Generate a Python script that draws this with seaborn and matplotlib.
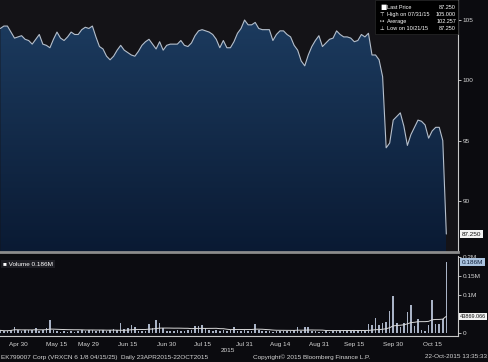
import numpy as np
import pandas as pd
import matplotlib
matplotlib.use('Agg')
import matplotlib.pyplot as plt
import matplotlib.transforms as mtransforms
from matplotlib import font_manager
from matplotlib.colors import LinearSegmentedColormap
from matplotlib.patches import Rectangle
import seaborn as sns

# Daily last price, 23 Apr 2015 - 21 Oct 2015 (trading days)
price = [
    104.3, 104.5, 104.5, 104.0, 103.5, 103.6, 103.7, 103.4, 103.3, 103.0,
    103.4, 103.8, 103.0, 102.9, 102.7, 103.4, 104.0, 103.5, 103.3, 103.6,
    104.0, 103.8, 103.8, 104.2, 104.4, 104.3, 104.5, 103.6, 102.8, 102.6,
    102.0, 101.7, 102.0, 102.5, 102.9, 102.5, 102.3, 102.1, 102.0, 102.4,
    102.9, 103.2, 103.4, 103.0, 102.6, 103.2, 102.5, 102.9, 103.0, 103.0,
    103.0, 103.3, 102.9, 102.8, 103.1, 103.7, 104.1, 104.2, 104.1, 104.0,
    103.8, 103.4, 102.7, 103.3, 102.7, 102.7, 103.2, 103.9, 104.3, 105.0,
    104.6, 104.6, 104.8, 104.3, 104.2, 104.2, 104.2, 103.3, 103.8, 104.1,
    104.1, 103.8, 103.6, 102.9, 102.5, 101.6, 101.2, 102.1, 102.8, 103.3,
    103.7, 102.8, 103.1, 103.4, 103.5, 104.1, 103.8, 103.6, 103.6, 103.5,
    103.2, 103.3, 103.8, 103.6, 103.9, 102.1, 102.1, 101.7, 100.3, 94.4,
    94.8, 96.7, 97.0, 97.3, 96.2, 94.6, 95.5, 96.1, 96.7, 96.6,
    96.3, 95.2, 95.8, 96.1, 96.1, 95.0, 87.25,
]

# Daily volume, thousands
volume_k = [
    7, 5, 6, 9, 16, 8, 6, 9, 7, 8,
    13, 6, 9, 13, 33, 7, 4, 3, 4, 3,
    4, 3, 5, 7, 6, 8, 7, 6, 7, 8,
    6, 7, 11, 8, 27, 10, 13, 20, 16, 4,
    4, 5, 24, 12, 33, 27, 12, 6, 5, 4,
    7, 5, 6, 7, 9, 18, 18, 20, 14, 7,
    5, 8, 6, 9, 5, 7, 17, 6, 5, 7,
    4, 6, 23, 7, 5, 4, 6, 3, 4, 5,
    4, 6, 5, 7, 17, 6, 17, 17, 5, 4,
    3, 3, 4, 3, 4, 5, 6, 5, 6, 5,
    5, 4, 6, 6, 23, 21, 40, 20, 25, 30,
    59, 97, 25, 17, 25, 56, 74, 19, 38, 8,
    5, 20, 88, 23, 24, 38, 186,
]

holidays = ['2015-05-25', '2015-07-03', '2015-09-07']
tick_dates = ['2015-04-30', '2015-05-15', '2015-05-29', '2015-06-15', '2015-06-30',
              '2015-07-15', '2015-07-31', '2015-08-14', '2015-08-31', '2015-09-15',
              '2015-09-30', '2015-10-15']
tick_labels = ['Apr 30', 'May 15', 'May 29', 'Jun 15', 'Jun 30', 'Jul 15',
               'Jul 31', 'Aug 14', 'Aug 31', 'Sep 15', 'Sep 30', 'Oct 15']
price_ticks = [90, 95, 100, 105]
volume_ticks = [0, 100000, 150000, 200000]
volume_tick_labels = ['0', '0.1M', '0.15M', '0.2M']

dates = pd.bdate_range('2015-04-23', '2015-10-21')
dates = dates[~dates.isin(pd.to_datetime(holidays))]
df = pd.DataFrame({'date': dates, 'price': price, 'volume': np.array(volume_k) * 1000.0})
df['idx'] = np.arange(len(df))
df['vol_ma'] = df['volume'].rolling(20, min_periods=1).mean()
tick_pos = [int(df.index[df['date'] == pd.Timestamp(d)][0]) for d in tick_dates]

sns.set_style('dark')
installed = {f.name for f in font_manager.fontManager.ttflist}
narrow = 'Liberation Sans Narrow' if 'Liberation Sans Narrow' in installed else 'Liberation Sans'
plt.rcParams['font.family'] = [narrow, 'DejaVu Sans']

W, H = 488, 362
fs = 4.6
fig = plt.figure(figsize=(W / 100, H / 100), dpi=100, facecolor='#0b0b0f')
ax = fig.add_axes([0, 1 - 252 / H, 458 / W, 252 / H])
axv = fig.add_axes([0, 1 - 336 / H, 458 / W, 80 / H])

xmin, xmax = -0.1, 129.3
ymin, ymax = 85.76, 106.66
txt = '#d6d6d6'

# price panel
ax.set_facecolor('#141317')
fill = ax.fill_between(df['idx'], df['price'], ymin, color='none', lw=0)
cmap = LinearSegmentedColormap.from_list('bb', ['#0a1a33', '#1c3b5f'])
grad = np.linspace(0, 1, 256).reshape(-1, 1)
im = ax.imshow(grad, extent=[0, df['idx'].max(), ymin, 105.2], aspect='auto',
               cmap=cmap, origin='lower', zorder=1)
im.set_clip_path(fill.get_paths()[0], transform=ax.transData)
sns.lineplot(data=df, x='idx', y='price', ax=ax, color='#b5bfcc', lw=0.8, zorder=3)
ax.set_xlim(xmin, xmax)
ax.set_ylim(ymin, ymax)
ax.set_xlabel('')
ax.set_ylabel('')
ax.set_xticks([])
ax.yaxis.tick_right()
ax.set_yticks(price_ticks)
ax.set_yticklabels([str(t) for t in price_ticks])
ax.tick_params(axis='y', colors=txt, labelsize=fs, length=2, width=0.6, pad=1.5)
ax.grid(False)
for s in ['left', 'top']:
    ax.spines[s].set_visible(False)
ax.spines['right'].set_color('#c8c8c8')
ax.spines['right'].set_linewidth(0.8)
ax.spines['bottom'].set_color('#8c8c8c')
ax.spines['bottom'].set_linewidth(2)

tr = mtransforms.blended_transform_factory(ax.transAxes, ax.transData)
ax.text(1.008, price[-1], '87.250', transform=tr, fontsize=fs, color='#111111',
        va='center', ha='left', clip_on=False, zorder=5,
        bbox=dict(boxstyle='square,pad=0.25', fc='#f2f2f2', ec='none'))

# legend box
fig.add_artist(Rectangle((375 / W, 1 - 34 / H), 83 / W, 34 / H, transform=fig.transFigure,
                         facecolor='#000000', edgecolor='#2a2a2a', lw=0.5, zorder=4))
rows = [('■', 'Last Price', '87.250'), ('⊤', 'High on 07/31/15', '105.000'),
        ('↦', 'Average', '102.257'), ('⊥', 'Low on 10/21/15', '87.250')]
lfs = 4.0
for k, (icon, name, val) in enumerate(rows):
    yy = 1 - (7.3 + k * 6.9) / H
    fig.text(380 / W, yy, icon, fontsize=3.8 if k else 4.8, color='white', va='center',
             ha='left', zorder=5, family='DejaVu Sans')
    fig.text(387 / W, yy, name, fontsize=lfs, color='white', va='center', ha='left', zorder=5)
    fig.text(456 / W, yy, val, fontsize=lfs, color='white', va='center', ha='right', zorder=5)

# volume panel
axv.set_facecolor('#0c0c11')
sns.barplot(data=df, x='idx', y='volume', native_scale=True, ax=axv, color='#a9b3c6',
            width=0.45, saturation=1, errorbar=None, linewidth=0)
sns.lineplot(data=df, x='idx', y='vol_ma', ax=axv, color='#d8d8d8', lw=0.7)
axv.set_xlim(xmin, xmax)
axv.set_ylim(-7900, 202600)
axv.set_xlabel('')
axv.set_ylabel('')
axv.yaxis.tick_right()
axv.set_yticks(volume_ticks)
axv.set_yticklabels(volume_tick_labels)
axv.set_xticks(tick_pos)
axv.set_xticklabels(tick_labels)
axv.tick_params(axis='y', colors=txt, labelsize=fs, length=2, width=0.6, pad=1.5)
axv.tick_params(axis='x', colors=txt, labelsize=fs, length=2, width=0.6, pad=4, direction='in')
axv.grid(False)
for s in ['left', 'top']:
    axv.spines[s].set_visible(False)
for s in ['right', 'bottom']:
    axv.spines[s].set_color('#c8c8c8')
    axv.spines[s].set_linewidth(0.8)

trv = mtransforms.blended_transform_factory(axv.transAxes, axv.transData)
axv.text(1.008, volume_k[-1] * 1000, '0.186M', transform=trv, fontsize=fs, color='#10203a',
         va='center', ha='left', clip_on=False, zorder=5,
         bbox=dict(boxstyle='square,pad=0.25', fc='#a9c2de', ec='none'))
axv.text(1.004, 43869.066, '43869.066', transform=trv,
         fontsize=4.0, color='#111111', va='center', ha='left', clip_on=False, zorder=5,
         bbox=dict(boxstyle='square,pad=0.2', fc='#f2f2f2', ec='none'))
axv.text(0.006, 0.9, '■ Volume 0.186M', transform=axv.transAxes, fontsize=fs, color='white',
         va='center', ha='left', zorder=5,
         bbox=dict(boxstyle='square,pad=0.3', fc='#1d1d23', ec='none'))

# footer
fig.text(228 / W, 1 - 351 / H, '2015', fontsize=fs, color=txt, ha='center', va='center')
fig.text(1 / W, 1 - 357 / H, 'EK799007 Corp (VRXCN 6 1/8 04/15/25)  Daily 23APR2015-22OCT2015',
         fontsize=fs, color=txt, ha='left', va='center')
fig.text(253 / W, 1 - 357 / H, 'Copyright© 2015 Bloomberg Finance L.P.',
         fontsize=fs, color=txt, ha='left', va='center')
fig.text(487 / W, 1 - 357 / H, '22-Oct-2015 13:35:33',
         fontsize=fs, color=txt, ha='right', va='center')

fig.savefig('out.png', dpi=100, facecolor=fig.get_facecolor())
